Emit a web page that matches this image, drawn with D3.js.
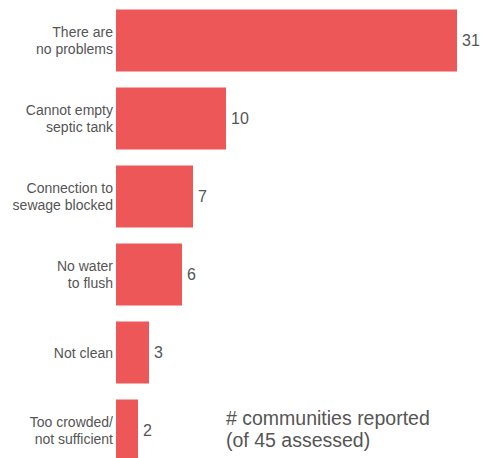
<!DOCTYPE html>
<html><head><meta charset="utf-8">
<script src="https://cdn.jsdelivr.net/npm/d3@7/dist/d3.min.js"></script>
<style>
html,body{margin:0;padding:0;background:#fff;overflow:hidden}
text{font-family:"Liberation Sans",Arial,sans-serif}
</style></head>
<body><svg id="c" width="481" height="458"></svg>
<script>
const categories = [
  ["There are","no problems"],
  ["Cannot empty","septic tank"],
  ["Connection to","sewage blocked"],
  ["No water","to flush"],
  ["Not clean"],
  ["Too crowded/","not sufficient"]
];
const values = [31, 10, 7, 6, 3, 2];
const noteLines = ["# communities reported", "(of 45 assessed)"];

const svg = d3.select("#c");
const keys = categories.map(c => c.join(" "));
const y = d3.scaleBand().domain(keys).range([1.5, 469.5]).paddingInner(16/78).paddingOuter(8/78);
const x = d3.scaleLinear().domain([0, 31]).range([116, 457]);

const g = svg.append("g");
keys.forEach((k, i) => {
  const v = values[i];
  g.append("rect")
    .attr("x", x(0)).attr("y", y(k))
    .attr("width", x(v) - x(0)).attr("height", y.bandwidth())
    .attr("fill", "#ee5758");
  const cy = y(k) + y.bandwidth() / 2;
  g.append("text")
    .attr("x", x(v) + 5).attr("y", cy).attr("dy", "0.36em")
    .attr("font-size", 16).attr("fill", "#555")
    .text(v);
  const lines = categories[i];
  const lh = 17.5;
  const t = g.append("text")
    .attr("text-anchor", "end").attr("font-size", 14).attr("fill", "#555");
  lines.forEach((ln, j) => {
    t.append("tspan")
      .attr("x", 113)
      .attr("y", cy + (j - (lines.length - 1) / 2) * lh + 5)
      .text(ln);
  });
});

const note = svg.append("text").attr("font-size", 19.5).attr("fill", "#555");
noteLines.forEach((ln, j) => {
  note.append("tspan").attr("x", 226).attr("y", 425 + j * 21.5).text(ln);
});
</script></body></html>
